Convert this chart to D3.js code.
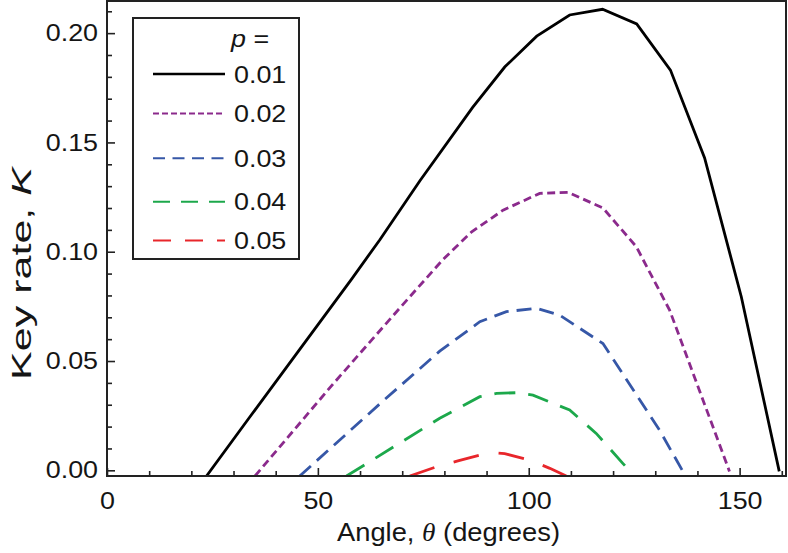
<!DOCTYPE html>
<html><head><meta charset="utf-8">
<script src="https://cdn.jsdelivr.net/npm/d3@7"></script>
<style>body{margin:0;background:#fff}svg{display:block}</style>
</head><body>
<svg id="chart" width="788" height="553"></svg>
<script>
// ---------------- data ----------------
const seriesLabels = ["0.01", "0.02", "0.03", "0.04", "0.05"];
const seriesColors = ["#000000", "#8b2a8c", "#3657a7", "#1ca84b", "#e8262b"];

const angle_p01 = [23.6, 33.9, 45, 58, 64.7, 74.2, 86.7, 94.3, 101.9, 109.7, 117.5, 125.6, 133.6, 141.7, 150.4, 159.4];
const rate_p01  = [-0.0026, 0.0245, 0.0535, 0.0875, 0.1055, 0.1325, 0.166, 0.1845, 0.1986, 0.2083, 0.2109, 0.2042, 0.1831, 0.1429, 0.0794, -0.0005];

const angle_p02 = [35.1, 53.6, 69.4, 79.7, 86.4, 93.9, 102.6, 109.3, 117.6, 125.5, 133.4, 147.6];
const rate_p02  = [-0.0026, 0.0395, 0.0742, 0.0965, 0.109, 0.119, 0.1267, 0.1272, 0.120, 0.1023, 0.0733, -0.0005];

const angle_p03 = [45.7, 65.5, 78.9, 88.4, 94.7, 101.8, 107.3, 117.6, 131, 137];
const rate_p03  = [-0.0026, 0.0318, 0.0545, 0.068, 0.0726, 0.0741, 0.071, 0.058, 0.0184, -0.002];

const angle_p04 = [56.8, 78.9, 88.4, 92.4, 97.1, 101, 109.7, 116, 122.3, 123.8];
const rate_p04  = [-0.0026, 0.0238, 0.0337, 0.0352, 0.0355, 0.0344, 0.0276, 0.0169, 0.0032, 0.0];

const angle_p05 = [71.8, 78.1, 83.2, 89.1, 92.4, 94.3, 100.2, 105, 108.9];
const rate_p05  = [-0.0026, 0.0016, 0.0043, 0.0073, 0.0079, 0.0076, 0.0047, 0.0009, -0.0026];

const xMajorTicks = [0, 50, 100, 150];
const xMinorTicks = [10, 20, 30, 40, 60, 70, 80, 90, 110, 120, 130, 140, 160];
const yMajorTicks = [0.00, 0.05, 0.10, 0.15, 0.20];
const yMinorTicks = [0.01, 0.02, 0.03, 0.04, 0.06, 0.07, 0.08, 0.09, 0.11, 0.12, 0.13, 0.14, 0.16, 0.17, 0.18, 0.19, 0.21];

// ---------------- layout / style ----------------
const FONT = "'Liberation Sans', Arial, Helvetica, sans-serif";
const SX = 1.12; // horizontal glyph stretch of the original
const L = 107, R = 786, T = 1, B = 476;
const plotDash = ["none", "8,4.5", "15,8", "21,13", "26,20"];
const legendDash = ["none", "6,3", "12,7.5", "17,11", "18,14"];
const legendRowY = [74, 113.5, 158.3, 201.7, 240.5];

const svg = d3.select("#chart");
const x = d3.scaleLinear().domain([0, 161]).range([L, R]);
const y = d3.scaleLinear().domain([-0.0026, 0.2147]).range([B, T]);

svg.append("defs").append("clipPath").attr("id", "clip")
  .append("rect").attr("x", L).attr("y", T).attr("width", R - L).attr("height", B - T);

// axes
function styleAxis(g) {
  g.select(".domain").remove();
  g.selectAll(".tick line").attr("stroke", "#222").attr("stroke-width", 1.6);
  g.selectAll(".tick text").attr("fill", "#151515").style("font-family", FONT).style("font-size", "24px");
}
svg.append("g").attr("transform", `translate(0,${B})`)
  .call(d3.axisBottom(x).tickValues(xMinorTicks).tickSize(-5).tickFormat(""))
  .call(styleAxis);
svg.append("g").attr("transform", `translate(0,${B})`)
  .call(d3.axisBottom(x).tickValues(xMajorTicks).tickSize(-8).tickPadding(16).tickFormat(d3.format("d")))
  .call(styleAxis)
  .call(g => g.selectAll(".tick text").attr("transform", `scale(${SX},1)`));
svg.append("g").attr("transform", `translate(${L},0)`)
  .call(d3.axisLeft(y).tickValues(yMinorTicks).tickSize(-5).tickFormat(""))
  .call(styleAxis);
svg.append("g").attr("transform", `translate(${L},0)`)
  .call(d3.axisLeft(y).tickValues(yMajorTicks).tickSize(-8).tickPadding(8).tickFormat(d3.format(".2f")))
  .call(styleAxis)
  .call(g => g.selectAll(".tick text").attr("transform", `scale(${SX},1)`));

// series
const series = [
  {a: angle_p01, k: rate_p01},
  {a: angle_p02, k: rate_p02},
  {a: angle_p03, k: rate_p03},
  {a: angle_p04, k: rate_p04},
  {a: angle_p05, k: rate_p05}
];
const line = d3.line().x(d => x(d[0])).y(d => y(d[1]));
const gLines = svg.append("g").attr("clip-path", "url(#clip)");
series.forEach((s, i) => {
  gLines.append("path")
    .datum(s.a.map((v, j) => [v, s.k[j]]))
    .attr("d", line)
    .attr("fill", "none")
    .attr("stroke", seriesColors[i])
    .attr("stroke-width", 2.8)
    .attr("stroke-dasharray", plotDash[i]);
});

// frame
svg.append("rect").attr("x", L).attr("y", T).attr("width", R - L).attr("height", B - T)
  .attr("fill", "none").attr("stroke", "#222").attr("stroke-width", 2);

// legend
const lg = svg.append("g");
lg.append("rect").attr("x", 133).attr("y", 18).attr("width", 166).attr("height", 241)
  .attr("fill", "#fff").attr("stroke", "#222").attr("stroke-width", 2);
const pt = lg.append("text").attr("transform", `translate(231,47) scale(${SX},1)`)
  .style("font-family", FONT).style("font-size", "24px").attr("fill", "#151515");
pt.append("tspan").style("font-style", "italic").text("p");
pt.append("tspan").text(" =");
seriesLabels.forEach((lab, i) => {
  const yy = legendRowY[i];
  lg.append("line").attr("x1", 153).attr("x2", 225).attr("y1", yy).attr("y2", yy)
    .attr("stroke", seriesColors[i]).attr("stroke-width", i === 0 ? 2.3 : 2)
    .attr("stroke-dasharray", legendDash[i]);
  lg.append("text").attr("transform", `translate(234,${yy}) scale(${SX},1)`)
    .attr("dy", "0.36em").style("font-family", FONT).style("font-size", "24px")
    .attr("fill", "#151515").text(lab);
});

// axis titles
const xt = svg.append("text").attr("x", 448.5).attr("y", 541).attr("text-anchor", "middle")
  .attr("textLength", 223).attr("lengthAdjust", "spacingAndGlyphs")
  .style("font-family", FONT).style("font-size", "26px").attr("fill", "#151515");
xt.append("tspan").text("Angle, ");
xt.append("tspan").style("font-family", "'Liberation Serif', 'Times New Roman', serif").style("font-style", "italic").text("θ");
xt.append("tspan").text(" (degrees)");

const yt = svg.append("text").attr("transform", "translate(31,273.5) rotate(-90)").attr("text-anchor", "middle")
  .attr("textLength", 213).attr("lengthAdjust", "spacingAndGlyphs")
  .style("font-family", FONT).style("font-size", "28px").attr("fill", "#151515");
yt.append("tspan").text("Key rate, ");
yt.append("tspan").style("font-style", "italic").text("K");
</script>
</body></html>
